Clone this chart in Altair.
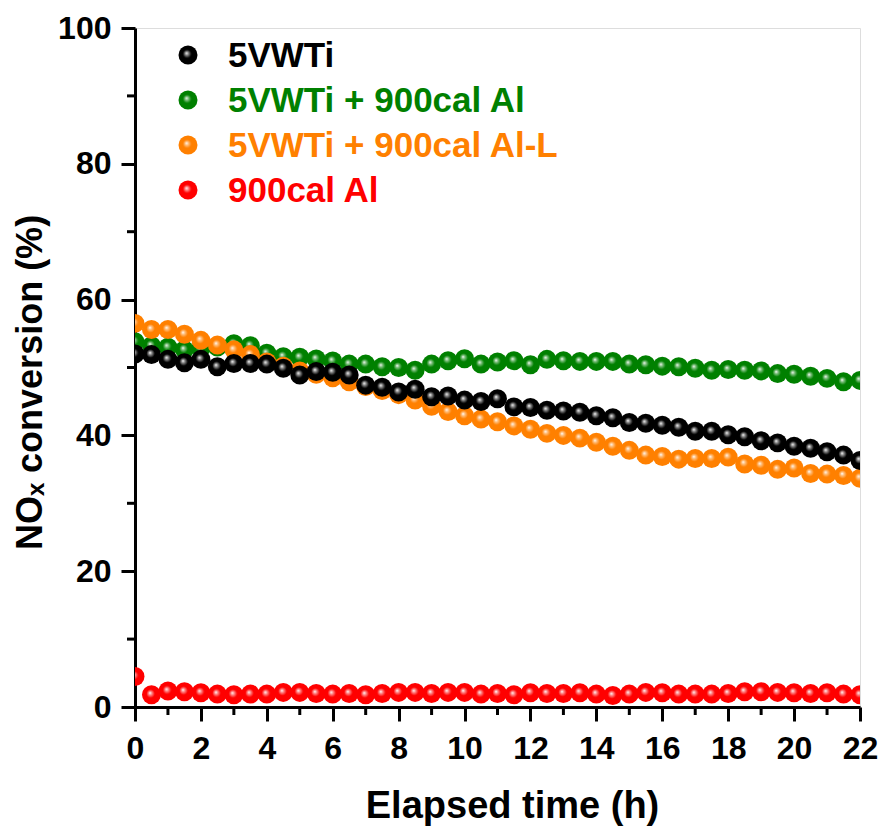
import altair as alt
import pandas as pd

# ---------------- data ----------------
times = [0, 0.5, 1, 1.5, 2, 2.5, 3, 3.5, 4, 4.5, 5, 5.5, 6, 6.5, 7, 7.5, 8, 8.5,
         9, 9.5, 10, 10.5, 11, 11.5, 12, 12.5, 13, 13.5, 14, 14.5, 15, 15.5, 16,
         16.5, 17, 17.5, 18, 18.5, 19, 19.5, 20, 20.5, 21, 21.5, 22]

s_5vwti = [52.0, 51.9, 51.2, 50.7, 51.2, 50.1, 50.6, 50.6, 50.5, 49.9, 48.9, 49.4,
           49.3, 48.9, 47.4, 47.1, 46.4, 46.8, 45.7, 45.8, 45.2, 45.0, 45.4, 44.2,
           44.1, 43.7, 43.6, 43.4, 42.9, 42.6, 41.9, 41.8, 41.5, 41.2, 40.6, 40.6,
           40.1, 39.8, 39.2, 38.9, 38.4, 38.1, 37.6, 37.1, 36.3]

s_5vwti_al = [53.8, 53.2, 53.0, 52.6, 52.8, 53.0, 53.5, 53.2, 52.1, 51.6, 51.5, 51.25,
              50.95, 50.5, 50.5, 50.1, 50.0, 49.6, 50.5, 51.0, 51.3, 50.5, 50.8, 51.0,
              50.4, 51.2, 51.0, 50.9, 50.9, 50.9, 50.5, 50.4, 50.2, 50.1, 49.9, 49.6,
              49.7, 49.6, 49.5, 49.1, 49.0, 48.7, 48.4, 47.9, 48.1]

s_5vwti_al_l = [56.5, 55.6, 55.6, 54.9, 54.0, 53.3, 52.6, 51.9, 50.8, 50.2, 49.5, 49.0,
                48.5, 47.9, 47.2, 46.6, 46.0, 45.2, 44.3, 43.5, 42.9, 42.4, 42.0, 41.4,
                40.9, 40.3, 40.0, 39.6, 39.0, 38.4, 37.8, 37.1, 36.9, 36.5, 36.6, 36.6,
                36.8, 35.8, 35.6, 35.0, 35.2, 34.4, 34.3, 34.1, 33.7]

s_al = [4.5, 1.8, 2.35, 2.25, 2.1, 1.9, 1.8, 1.9, 1.9, 2.15, 2.15, 2.0, 1.9, 2.0, 1.8,
        2.0, 2.15, 2.15, 2.0, 2.15, 2.15, 1.9, 2.0, 1.8, 2.1, 2.0, 2.0, 2.1, 1.9, 1.7,
        1.9, 2.15, 2.1, 1.9, 1.9, 1.9, 2.0, 2.25, 2.25, 2.15, 2.1, 2.0, 2.1, 1.9, 1.8]

names = ["5VWTi", "5VWTi + 900cal Al", "5VWTi + 900cal Al-L", "900cal Al"]
series = [s_5vwti, s_5vwti_al, s_5vwti_al_l, s_al]
colors = ["#000000", "#008000", "#ff8000", "#ff0000"]
mids = ["#8a8a8a", "#80c080", "#ffc080", "#ff8a8a"]
draw_order = [1, 2, 0, 3]

x_major = [0, 2, 4, 6, 8, 10, 12, 14, 16, 18, 20, 22]
x_minor = [1, 3, 5, 7, 9, 11, 13, 15, 17, 19, 21]
y_major = [0, 20, 40, 60, 80, 100]
y_minor = [10, 30, 50, 70, 90]

# ---------------- layout / style ----------------
W, H = 725, 679
FONT = "Liberation Sans"
SIZE = 360

legend_x_sym, legend_x_txt = 53, 93
legend_y = [27, 72, 117, 162]


def sphere(base, mid):
    return {
        "gradient": "radial",
        "x1": 0.42, "y1": 0.4, "r1": 0,
        "x2": 0.5, "y2": 0.5, "r2": 0.5,
        "stops": [
            {"offset": 0, "color": "#ffffff"},
            {"offset": 0.18, "color": mid},
            {"offset": 0.45, "color": base},
            {"offset": 1, "color": base},
        ],
    }


xscale = alt.Scale(domain=[0, 22], nice=False, zero=False)
yscale = alt.Scale(domain=[0, 100], nice=False)

x_axis = alt.Axis(
    values=x_major, format="d", title="Elapsed time (h)",
    titleFont=FONT, titleFontSize=38, titleFontWeight="bold", titleColor="black",
    titleX=377, titleY=110, titleBaseline="alphabetic", titleAlign="center",
    labelFont=FONT, labelFontSize=32, labelFontWeight="bold", labelColor="black",
    labelPadding=12, labelFlush=False, labelOverlap=False,
    tickSize=14, tickWidth=3, tickColor="black",
    domainWidth=3, domainColor="black", grid=False,
)
y_axis = alt.Axis(
    values=y_major, format="d", title="NOₓ conversion (%)",
    titleFont=FONT, titleFontSize=36, titleFontWeight="bold", titleColor="black",
    titleAngle=270, titleX=-105, titleY=354, titleBaseline="middle", titleAlign="center",
    labelFont=FONT, labelFontSize=32, labelFontWeight="bold", labelColor="black",
    labelPadding=10, labelOverlap=False,
    tickSize=14, tickWidth=3, tickColor="black",
    domainWidth=3, domainColor="black", grid=False,
)

layers = []

# minor ticks
xm = pd.DataFrame({"t": x_minor})
layers.append(
    alt.Chart(xm).mark_rule(color="black", strokeWidth=3).encode(
        x=alt.X("t:Q", scale=xscale, axis=x_axis),
        y=alt.value(H), y2=alt.value(H + 8),
    )
)
ym = pd.DataFrame({"v": y_minor})
layers.append(
    alt.Chart(ym).mark_rule(color="black", strokeWidth=3).encode(
        y=alt.Y("v:Q", scale=yscale, axis=y_axis),
        x=alt.value(0), x2=alt.value(-8),
    )
)

# data points
for i in draw_order:
    df = pd.DataFrame({"t": times, "v": series[i]})
    layers.append(
        alt.Chart(df).mark_circle(
            size=SIZE, fill=sphere(colors[i], mids[i]), opacity=1,
            fillOpacity=1, strokeWidth=0, clip=True,
        ).encode(
            x=alt.X("t:Q", scale=xscale, axis=x_axis),
            y=alt.Y("v:Q", scale=yscale, axis=y_axis),
        )
    )

# legend
for i, name in enumerate(names):
    ldf = pd.DataFrame({"n": [name]})
    layers.append(
        alt.Chart(ldf).mark_circle(
            size=SIZE, fill=sphere(colors[i], mids[i]), opacity=1,
            fillOpacity=1, strokeWidth=0,
        ).encode(x=alt.value(legend_x_sym), y=alt.value(legend_y[i]))
    )
    layers.append(
        alt.Chart(ldf).mark_text(
            align="left", baseline="middle", font=FONT, fontSize=35,
            fontWeight="bold", color=colors[i],
        ).encode(
            x=alt.value(legend_x_txt), y=alt.value(legend_y[i] + 1), text="n:N"
        )
    )

chart = alt.layer(*layers).properties(
    width=W, height=H,
    autosize=alt.AutoSizeParams(type="none"),
    padding={"left": 135, "top": 28, "right": 23, "bottom": 121},
).configure_view(stroke="black", strokeWidth=3).configure(background="white")

chart.save("out.html", embed_options={"renderer": "svg", "actions": False})
